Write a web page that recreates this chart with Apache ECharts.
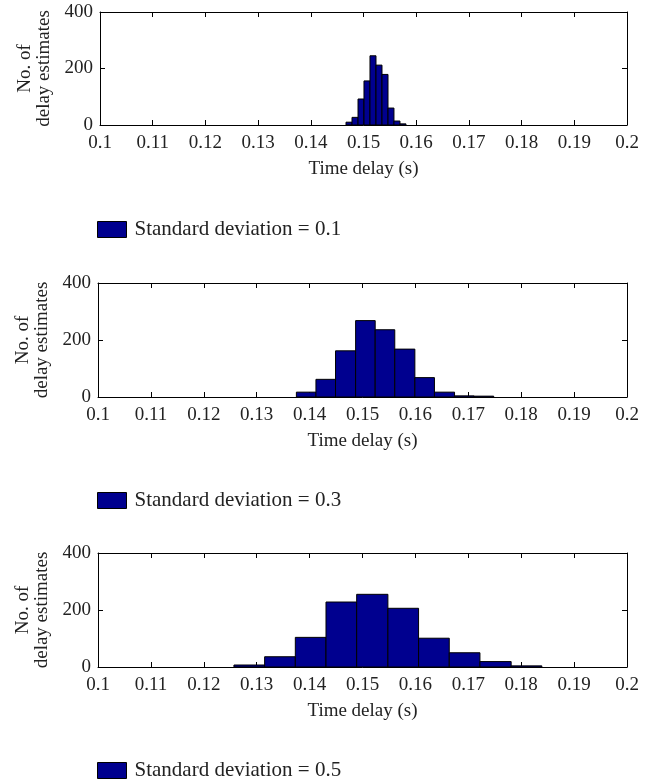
<!DOCTYPE html>
<html>
<head>
<meta charset="utf-8">
<script src="https://cdn.jsdelivr.net/npm/echarts@6/dist/echarts.min.js"></script>
<style>
html,body{margin:0;padding:0;background:#fff;}
#chart{width:653px;height:779px;}
</style>
</head>
<body>
<div id="chart"></div>
<script>
// Histogram bin edges (seconds) and counts
const sd1Edges = [0.14668, 0.14782, 0.14896, 0.15009, 0.15123, 0.15237, 0.15351, 0.15465, 0.15578, 0.15692, 0.15806];
const sd1Counts = [10, 27, 92, 156, 245, 212, 179, 60, 14, 4];

const sd3Edges = [0.1375, 0.1412, 0.1449, 0.1487, 0.1524, 0.1561, 0.1599, 0.1636, 0.1674, 0.1711, 0.1748];
const sd3Counts = [17, 62, 162, 268, 236, 168, 68, 17, 4, 3];

const sd5Edges = [0.1257, 0.1315, 0.1373, 0.1431, 0.1489, 0.1548, 0.1606, 0.1664, 0.1722, 0.1781, 0.1839];
const sd5Counts = [7, 36, 104, 228, 255, 206, 101, 50, 19, 4];

const seriesNames = ['Standard deviation = 0.1', 'Standard deviation = 0.3', 'Standard deviation = 0.5'];
const xTicks = [0.1, 0.11, 0.12, 0.13, 0.14, 0.15, 0.16, 0.17, 0.18, 0.19, 0.2];
const yTicks = [0, 200, 400];
const xName = 'Time delay (s)';
const yName = 'No. of\ndelay estimates';

const FONT = '"Liberation Serif", "DejaVu Serif", serif';
const TEXT = '#222';
const FILL = '#00008F';

function toRows(edges, counts) {
  return counts.map((c, i) => [edges[i], edges[i + 1], c]);
}
const datasets = [toRows(sd1Edges, sd1Counts), toRows(sd3Edges, sd3Counts), toRows(sd5Edges, sd5Counts)];

const grids = [
  {left: 100, right: 26, top: 12, height: 113},
  {left: 98, right: 26, top: 283, height: 114},
  {left: 98, right: 26, top: 553, height: 114}
];
const legendTops = [219, 490, 760];

const lineStyle = {color: '#000', width: 1};
const xAxes = [], yAxes = [], series = [], legends = [];
grids.forEach((g, i) => {
  xAxes.push({
    type: 'value', gridIndex: i, position: 'bottom',
    min: xTicks[0], max: xTicks[xTicks.length - 1], interval: 0.01,
    axisLine: {show: true, onZero: false, lineStyle: lineStyle},
    axisTick: {show: true, inside: true, length: 5, lineStyle: {color: '#000'}},
    splitLine: {show: false},
    axisLabel: {
      color: TEXT, fontFamily: FONT, fontSize: 19, margin: 9,
      formatter: v => String(parseFloat(v.toFixed(2)))
    },
    name: xName, nameLocation: 'middle', nameGap: 35,
    nameTextStyle: {color: TEXT, fontFamily: FONT, fontSize: 19}
  });
  xAxes.push({
    type: 'value', gridIndex: i, position: 'top',
    min: xTicks[0], max: xTicks[xTicks.length - 1], interval: 0.01,
    axisLine: {show: true, onZero: false, lineStyle: lineStyle},
    axisTick: {show: true, inside: true, length: 5, lineStyle: {color: '#000'}},
    splitLine: {show: false},
    axisLabel: {show: false}
  });
  yAxes.push({
    type: 'value', gridIndex: i, position: 'left',
    min: yTicks[0], max: yTicks[yTicks.length - 1], interval: 200,
    axisLine: {show: true, onZero: false, lineStyle: lineStyle},
    axisTick: {show: true, inside: true, length: 5, lineStyle: {color: '#000'}},
    splitLine: {show: false},
    axisLabel: {color: TEXT, fontFamily: FONT, fontSize: 19, margin: 7},
    name: yName, nameLocation: 'middle', nameRotate: 90, nameGap: 46,
    nameTextStyle: {color: TEXT, fontFamily: FONT, fontSize: 19, lineHeight: 19, align: 'center'}
  });
  yAxes.push({
    type: 'value', gridIndex: i, position: 'right',
    min: yTicks[0], max: yTicks[yTicks.length - 1], interval: 200,
    axisLine: {show: true, onZero: false, lineStyle: lineStyle},
    axisTick: {show: true, inside: true, length: 5, lineStyle: {color: '#000'}},
    splitLine: {show: false},
    axisLabel: {show: false}
  });
  series.push({
    type: 'custom', name: seriesNames[i],
    xAxisIndex: i * 2, yAxisIndex: i * 2,
    data: datasets[i],
    encode: {x: [0, 1], y: 2},
    itemStyle: {color: FILL, borderColor: '#000', borderWidth: 1},
    renderItem: function (params, api) {
      const p0 = api.coord([api.value(0), api.value(2)]);
      const p1 = api.coord([api.value(1), 0]);
      return {
        type: 'rect',
        shape: {x: p0[0], y: p0[1], width: p1[0] - p0[0], height: p1[1] - p0[1]},
        style: {fill: FILL, stroke: '#000', lineWidth: 1}
      };
    }
  });
  legends.push({
    data: [seriesNames[i]], left: 97, top: legendTops[i], padding: 0,
    itemWidth: 29, itemHeight: 16, icon: 'rect',
    itemStyle: {color: FILL, borderColor: '#000', borderWidth: 1},
    textStyle: {color: TEXT, fontFamily: FONT, fontSize: 21, lineHeight: 16, padding: [0, 0, 0, 3]},
    selectedMode: false
  });
});

const chart = echarts.init(document.getElementById('chart'), null, {renderer: 'canvas'});
chart.setOption({
  animation: false,
  backgroundColor: '#fff',
  grid: grids,
  xAxis: xAxes,
  yAxis: yAxes,
  legend: legends,
  series: series
});
</script>
</body>
</html>
